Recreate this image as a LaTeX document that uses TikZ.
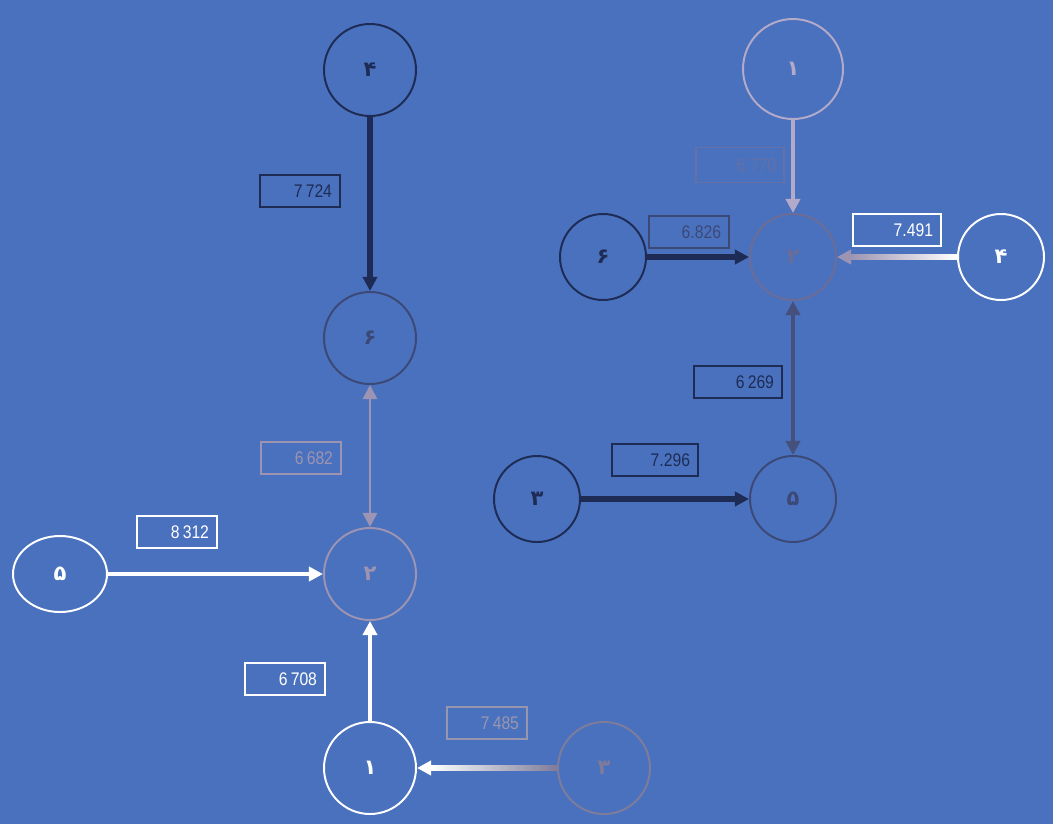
\documentclass[tikz,border=0pt]{standalone}
\usepackage{fontspec}
\setmainfont{Liberation Sans}
\newfontfamily\weightfont[FakeStretch=0.86]{Liberation Sans}
\newfontfamily\farsi[Script=Arabic]{DejaVu Sans}
\TeXXeTstate=1
\usetikzlibrary{positioning,calc,arrows.meta,shapes.geometric}

\definecolor{board}{HTML}{4A71BE}
\definecolor{navy}{HTML}{1E2C55}
\definecolor{slate}{HTML}{3C4977}
\definecolor{mauve}{HTML}{9C94B2}
\definecolor{dusk}{HTML}{6C6C96}
\definecolor{lilac}{HTML}{B2AAC8}
\definecolor{ash}{HTML}{7E7C9A}
\definecolor{faded}{HTML}{6470A6}

\tikzset{>={Triangle[length=10pt,width=10pt]}}
\tikzset{
  vertex/.style={circle, draw, line width=1.4pt, minimum size=2.3cm, inner sep=0pt, font=\farsi\bfseries\fontsize{15}{15}\selectfont},
  weight/.style={draw, line width=1pt, minimum height=0.8cm, text width=1.6cm, align=right, inner xsep=0.2cm, font=\weightfont\fontsize{13}{13}\selectfont},
  link/.style={->, line width=#1},
  link/.default=3pt
}

% right-to-left arrow, colour #4 at #2 fading to #5 at #3
\newcommand{\fadelink}[5]{%
  \path (#2) -- (#3) coordinate[pos=0] (fs) coordinate[pos=1] (fe);
  \draw[link=#1, #5] (fs) -- (fe);
  \shade[left color=#5, right color=#4] ($(fe)+(0.34,0.5*#1)$) rectangle ($(fs)+(0,-0.5*#1)$);
}

\begin{document}
\begin{tikzpicture}
  \fill[board] (0,0) rectangle (26.325,-20.6);
  \useasboundingbox (0,0) rectangle (26.325,-20.6);

  % left graph
  \node[vertex, navy] (l4) at (9.25,-1.75) {\beginR ۴\endR};
  \node[vertex, slate, below of=l4, node distance=6.7cm] (l6) {\beginR ۶\endR};
  \node[vertex, mauve, below of=l6, node distance=5.9cm] (l2) {\beginR ۲\endR};
  \node[vertex, white, below of=l2, node distance=4.85cm] (l1) {\beginR ۱\endR};
  \node[vertex, ellipse, white, minimum width=2.35cm, minimum height=1.9cm, left of=l2, node distance=7.75cm] (l5) {\beginR ۵\endR};
  \node[vertex, ash, right of=l1, node distance=5.85cm] (l3) {\beginR ۳\endR};

  \draw[link=4pt, navy] (l4) -- (l6);
  \draw[link=2pt, <->, mauve] (l6) -- (l2);
  \draw[link=3.3pt, white] (l5) -- (l2);
  \draw[link=3.3pt, white] (l1) -- (l2);
  \fadelink{3pt}{l3}{l1}{ash}{white}

  \node[weight, navy] (w46) at (7.5,-4.775) {7\,724};
  \node[weight, mauve] (w62) at (7.525,-11.45) {6\,682};
  \node[weight, white] (w52) at (4.425,-13.3) {8\,312};
  \node[weight, white] (w12) at (7.125,-16.975) {6\,708};
  \node[weight, ash!80!white] (w31) at (12.175,-18.075) {7\,485};

  % right graph
  \node[vertex, dusk, minimum size=2.15cm] (r2) at (19.825,-6.425) {\beginR ۲\endR};
  \node[vertex, lilac, minimum size=2.5cm, above of=r2, node distance=4.7cm] (r1) {\beginR ۱\endR};
  \node[vertex, navy, minimum size=2.15cm, left of=r2, node distance=4.75cm] (r6) {\beginR ۶\endR};
  \node[vertex, white, minimum size=2.15cm, right of=r2, node distance=5.2cm] (r4) {\beginR ۴\endR};
  \node[vertex, slate, minimum size=2.15cm, below of=r2, node distance=6.05cm] (r5) {\beginR ۵\endR};
  \node[vertex, navy, minimum size=2.15cm, left of=r5, node distance=6.4cm] (r3) {\beginR ۳\endR};

  \draw[link=3pt, lilac] (r1) -- (r2);
  \draw[link=4pt, navy] (r6) -- (r2);
  \fadelink{3.5pt}{r4}{r2}{white}{mauve}
  \draw[link=2.8pt, <->, slate!80!dusk] (r2) -- (r5);
  \draw[link=4.5pt, navy] (r3) -- (r5);

  \node[weight, faded, minimum height=0.87cm, text width=1.8cm] (w12r) at (18.5,-4.125) {6.770};
  \node[weight, slate] (w62r) at (17.225,-5.8) {6.826};
  \node[weight, white, text width=1.8cm] (w42r) at (22.425,-5.75) {7.491};
  \node[weight, navy, text width=1.8cm] (w25r) at (18.45,-9.55) {6\,269};
  \node[weight, navy, text width=1.75cm] (w35r) at (16.375,-11.5) {7.296};
\end{tikzpicture}
\end{document}
